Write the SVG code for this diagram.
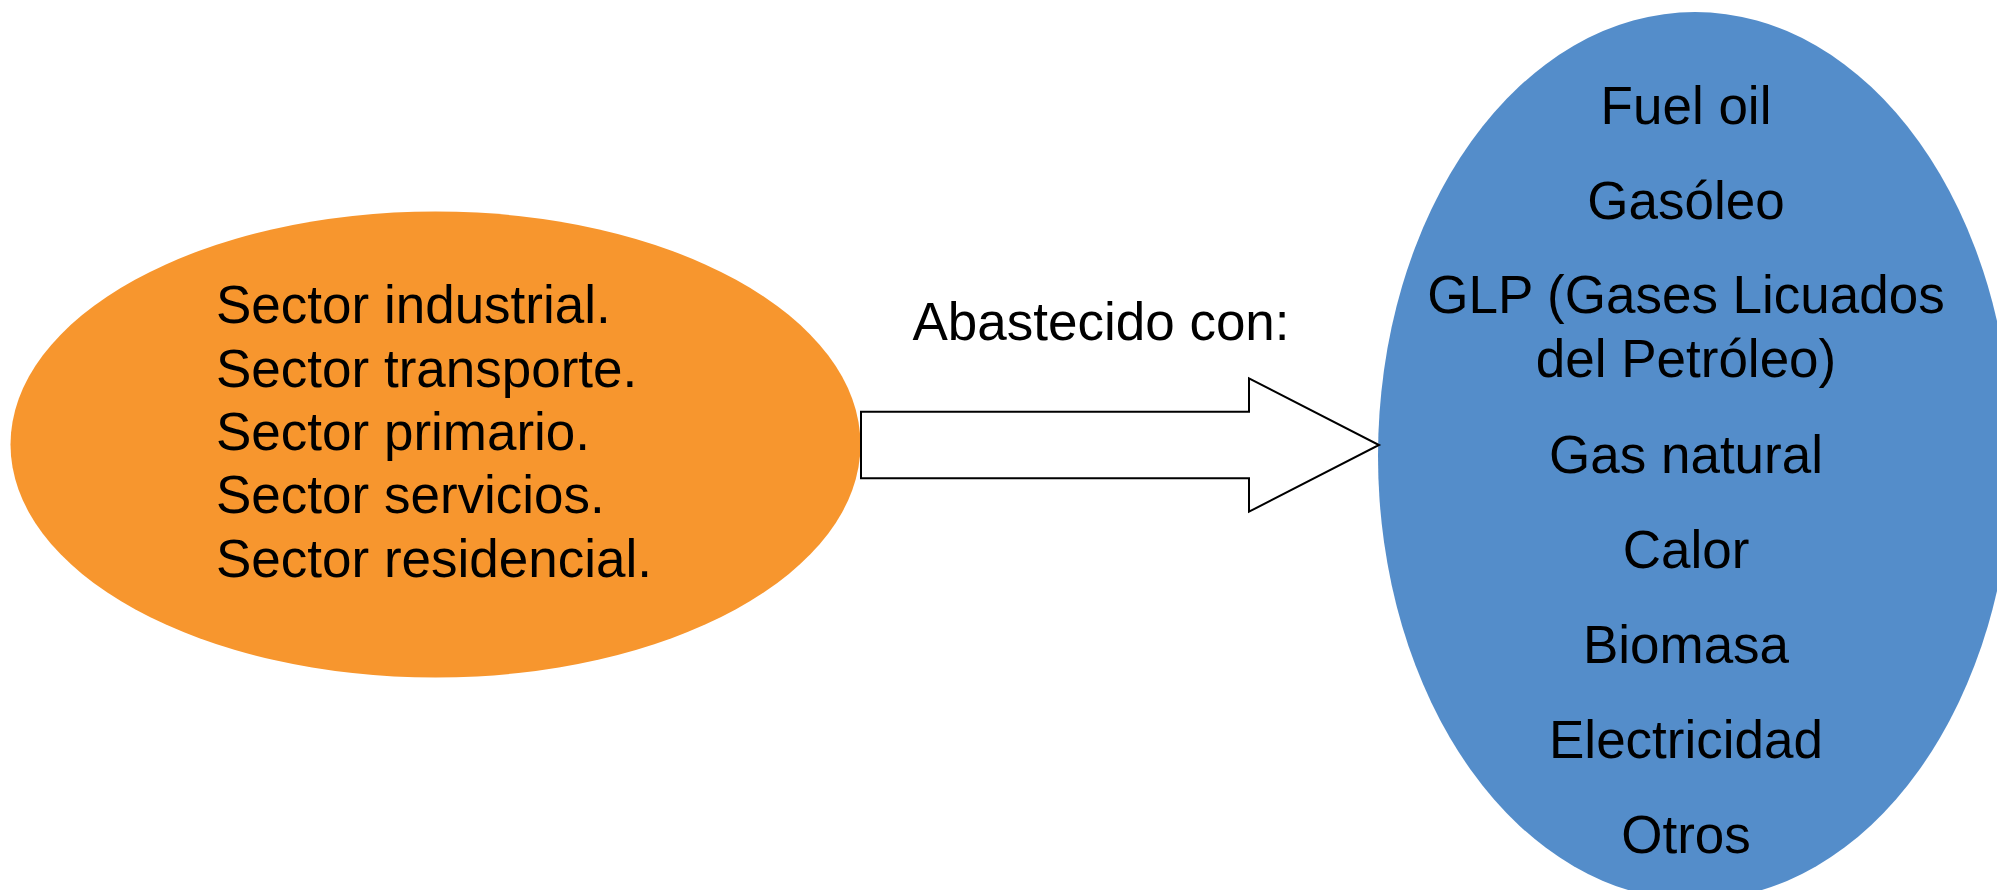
<svg xmlns="http://www.w3.org/2000/svg" width="1997" height="890" viewBox="0 0 1997 890">
  <style>
    .t { font-family: "Liberation Sans", Arial, sans-serif; font-size: 53px; fill: #000; }
    .c { text-anchor: middle; }
    .arrow { fill: #fff; stroke: #000; stroke-width: 2; stroke-linejoin: miter; }
  </style>
  <rect width="1997" height="890" fill="#fff"/>
  <g id="sectores">
    <ellipse cx="435.5" cy="444.5" rx="425" ry="233" fill="#F7962E"/>
    <text class="t" x="216" y="323.3">Sector industrial.</text>
    <text class="t" x="216" y="386.7">Sector transporte.</text>
    <text class="t" x="216" y="450">Sector primario.</text>
    <text class="t" x="216" y="513.3">Sector servicios.</text>
    <text class="t" x="216" y="576.7">Sector residencial.</text>
  </g>
  <g id="fuentes">
    <ellipse cx="1695" cy="456" rx="317" ry="444" fill="#548DCA"/>
    <text class="t c" x="1686" y="124">Fuel oil</text>
    <text class="t c" x="1686" y="218.7">Gasóleo</text>
    <text class="t c" x="1686" y="313.3">GLP (Gases Licuados</text>
    <text class="t c" x="1686" y="377.3">del Petróleo)</text>
    <text class="t c" x="1686" y="472.7">Gas natural</text>
    <text class="t c" x="1686" y="568">Calor</text>
    <text class="t c" x="1686" y="663.3">Biomasa</text>
    <text class="t c" x="1686" y="758.3">Electricidad</text>
    <text class="t c" x="1686" y="853.3">Otros</text>
  </g>
  <g id="connectors">
    <polygon class="arrow" points="861,411.7 1249,411.7 1249,378.3 1379,445 1249,511.7 1249,478.3 861,478.3"/>
    <text class="t c" x="1101" y="340">Abastecido con:</text>
  </g>
</svg>
